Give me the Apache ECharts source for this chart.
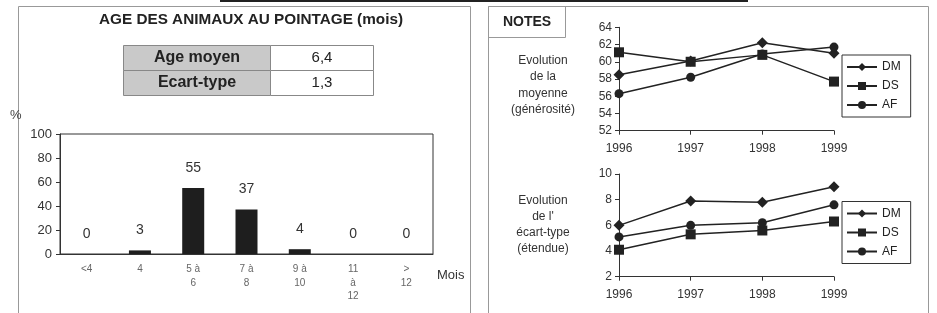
<!DOCTYPE html>
<html>
<head>
<meta charset="utf-8">
<script src="https://cdn.jsdelivr.net/npm/echarts@6/dist/echarts.min.js"></script>
<style>
  html, body { margin: 0; padding: 0; background: #fff; }
  #chart { width: 937px; height: 313px; }
</style>
</head>
<body>
<div id="chart"></div>
<script>
// ---- data ----
const ageCats = ['<4', '4', '5 à\n6', '7 à\n8', '9 à\n10', '11\nà\n12', '>\n12'];
const agePct = [0, 3, 55, 37, 4, 0, 0];

const statLabels = ['Age moyen', 'Ecart-type'];
const statValues = ['6,4', '1,3'];

const years = ['1996', '1997', '1998', '1999'];
const moyDM = [58.5, 60.1, 62.2, 61.0];
const moyDS = [61.1, 60.0, 60.8, 57.7];
const moyAF = [56.3, 58.2, 60.9, 61.7];
const etDM = [6.0, 7.9, 7.8, 9.0];
const etDS = [4.1, 5.3, 5.6, 6.3];
const etAF = [5.1, 6.0, 6.2, 7.6];

const FONT = "'Liberation Sans', Arial, sans-serif";
const INK = '#222';

// ---- frames, title, table ----
let graphics = [
  { type: 'rect', shape: { x: 220, y: 0, width: 528, height: 2 }, style: { fill: '#222' } },
  { type: 'rect', shape: { x: 18.5, y: 6.5, width: 452, height: 320 }, style: { fill: 'none', stroke: '#999', lineWidth: 1 } },
  { type: 'rect', shape: { x: 488.5, y: 6.5, width: 440, height: 320 }, style: { fill: 'none', stroke: '#999', lineWidth: 1 } },
  { type: 'rect', shape: { x: 488.5, y: 6.5, width: 77, height: 31 }, style: { fill: 'none', stroke: '#999', lineWidth: 1 } },
  { type: 'text', x: 527, y: 22, style: { text: 'NOTES', font: 'bold 14px ' + FONT, fill: INK, align: 'center', verticalAlign: 'middle' } },
  { type: 'text', x: 251, y: 20, style: { text: 'AGE DES ANIMAUX AU POINTAGE (mois)', font: 'bold 15.3px ' + FONT, fill: INK, align: 'center', verticalAlign: 'middle' } },
  { type: 'text', x: 10, y: 115, style: { text: '%', font: '13px ' + FONT, fill: '#444', verticalAlign: 'middle' } },
  { type: 'text', x: 437, y: 275, style: { text: 'Mois', font: '13px ' + FONT, fill: '#333', verticalAlign: 'middle' } },
  { type: 'text', x: 543, y: 85, style: { text: 'Evolution\nde la\nmoyenne\n(générosité)', font: '12px ' + FONT, lineHeight: 16.5, fill: '#333', align: 'center', verticalAlign: 'middle' } },
  { type: 'text', x: 543, y: 225, style: { text: "Evolution\nde l'\nécart-type\n(étendue)", font: '12px ' + FONT, lineHeight: 16, fill: '#333', align: 'center', verticalAlign: 'middle' } }
];

statLabels.forEach((lab, i) => {
  const y = 45.5 + i * 25;
  graphics.push(
    { type: 'rect', shape: { x: 123.5, y: y, width: 147, height: 25 }, style: { fill: '#c9c9c9', stroke: '#888', lineWidth: 1 } },
    { type: 'rect', shape: { x: 270.5, y: y, width: 103, height: 25 }, style: { fill: '#fff', stroke: '#888', lineWidth: 1 } },
    { type: 'text', x: 197, y: y + 12.5, style: { text: lab, font: 'bold 16px ' + FONT, fill: INK, align: 'center', verticalAlign: 'middle' } },
    { type: 'text', x: 322, y: y + 12.5, style: { text: statValues[i], font: '15px ' + FONT, fill: INK, align: 'center', verticalAlign: 'middle' } }
  );
});

function lineSeries(name, data, symbol, size, idx) {
  return {
    name: name, type: 'line', data: data, xAxisIndex: idx, yAxisIndex: idx,
    symbol: symbol, symbolSize: size,
    lineStyle: { color: INK, width: 1.5 },
    itemStyle: { color: INK },
    animation: false
  };
}

function lineX(idx) {
  return {
    type: 'category', gridIndex: idx, data: years, boundaryGap: false,
    axisLine: { lineStyle: { color: '#333', width: 1 } },
    axisTick: { length: 4, lineStyle: { color: '#333' } },
    axisLabel: { color: '#333', fontSize: 12, fontFamily: FONT, margin: 12 }
  };
}
function lineY(idx, min, max) {
  return {
    type: 'value', gridIndex: idx, min: min, max: max, interval: 2,
    axisLine: { show: true, lineStyle: { color: '#333', width: 1 } },
    axisTick: { show: true, length: 4, lineStyle: { color: '#333' } },
    splitLine: { show: false },
    axisLabel: { color: '#333', fontSize: 12, fontFamily: FONT, margin: 7 }
  };
}
function legendAt(top) {
  return {
    data: ['DM', 'DS', 'AF'], orient: 'vertical', left: 842, top: top,
    backgroundColor: '#fff', borderColor: '#333', borderWidth: 1, borderRadius: 0,
    padding: [6, 10, 6, 4], itemGap: 7, itemWidth: 30, itemHeight: 10,
    textStyle: { color: INK, fontSize: 12, fontFamily: FONT }
  };
}

const chart = echarts.init(document.getElementById('chart'));
chart.setOption({
  animation: false,
  textStyle: { fontFamily: FONT },
  grid: [
    { left: 60, top: 134, width: 373, height: 120, show: true, borderColor: '#333', borderWidth: 1, backgroundColor: 'transparent' },
    { left: 619, top: 27.3, width: 215, height: 103.4 },
    { left: 619, top: 174, width: 215, height: 102.7 }
  ],
  legend: [legendAt(55), legendAt(201.5)],
  xAxis: [
    {
      type: 'category', gridIndex: 0, data: ageCats,
      axisLine: { lineStyle: { color: '#333' } },
      axisTick: { length: 4, lineStyle: { color: '#333' } },
      axisLabel: { color: '#666', fontSize: 10, lineHeight: 13.3, fontFamily: FONT, margin: 9, interval: 0 }
    },
    lineX(1), lineX(2)
  ],
  yAxis: [
    {
      type: 'value', gridIndex: 0, min: 0, max: 100, interval: 20,
      axisLine: { show: true, lineStyle: { color: '#333' } },
      axisTick: { show: true, length: 4, lineStyle: { color: '#333' } },
      splitLine: { show: false },
      axisLabel: { color: '#333', fontSize: 13, fontFamily: FONT, margin: 8 }
    },
    lineY(1, 52, 64), lineY(2, 2, 10)
  ],
  series: [
    {
      type: 'bar', data: agePct, xAxisIndex: 0, yAxisIndex: 0, barWidth: 22,
      itemStyle: { color: '#1e1e1e' },
      label: { show: true, position: 'top', distance: 13, color: '#333', fontSize: 14, fontFamily: FONT }
    },
    lineSeries('DM', moyDM, 'diamond', 11, 1),
    lineSeries('DS', moyDS, 'rect', 10, 1),
    lineSeries('AF', moyAF, 'circle', 9, 1),
    lineSeries('DM', etDM, 'diamond', 11, 2),
    lineSeries('DS', etDS, 'rect', 10, 2),
    lineSeries('AF', etAF, 'circle', 9, 2)
  ],
  graphic: graphics
});
</script>
</body>
</html>
